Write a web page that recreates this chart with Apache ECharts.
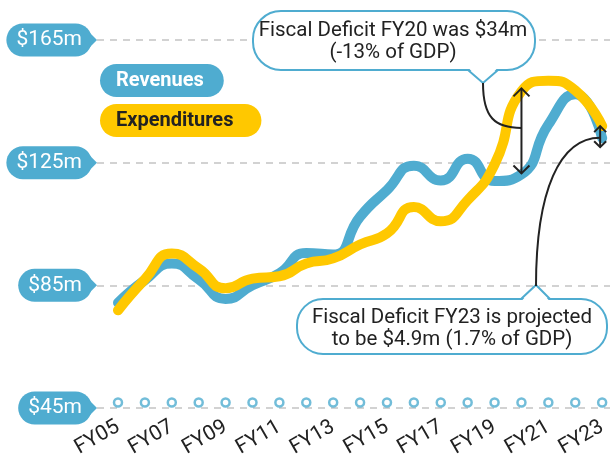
<!DOCTYPE html>
<html><head><meta charset="utf-8">
<script src="https://cdn.jsdelivr.net/npm/echarts/dist/echarts.min.js"></script>
<style>html,body{margin:0;padding:0;background:#fff}#c{width:610px;height:460px}</style>
</head><body><div id="c"></div>
<script>
const years = ['FY05','FY06','FY07','FY08','FY09','FY10','FY11','FY12','FY13','FY14','FY15','FY16','FY17','FY18','FY19','FY20','FY21','FY22','FY23'];
const revenues = [78, 85.5, 91, 85.8, 79.3, 83.8, 87.8, 94.5, 94, 106.5, 115.3, 123.4, 118.5, 125.7, 118.3, 120.5, 137, 147, 132.5];
const expenditures = [75.5, 85.8, 94.3, 89.4, 82.8, 86, 86.8, 91, 92.7, 97.3, 101, 109.7, 105, 112, 123.8, 148, 151.5, 148.3, 136.5];
const yTicks = [45, 85, 125, 165];
const seriesNames = ['Revenues', 'Expenditures'];
const note1 = 'Fiscal Deficit FY20 was $34m\n(-13% of GDP)';
const note2 = 'Fiscal Deficit FY23 is projected\nto be $4.9m (1.7% of GDP)';

const BLUE = '#4facd0', YELLOW = '#ffc800', INK = '#222';
const FONT = 'Roboto, "Noto Sans", sans-serif';

const chart = echarts.init(document.getElementById('c'), null, {renderer: 'canvas'});

const G = {top: 40, bottom: 52};
chart.setOption({
  animation: false,
  backgroundColor: '#fff',
  textStyle: {fontFamily: FONT},
  grid: [
    {left: 97, right: 0, top: G.top, bottom: G.bottom},
    {left: 118, right: 5, top: G.top, bottom: G.bottom}
  ],
  xAxis: [
    {gridIndex: 0, type: 'value', min: 0, max: 1, show: false},
    {gridIndex: 1, type: 'category', data: years, boundaryGap: false,
     axisLine: {show: false}, axisTick: {show: false},
     axisLabel: {interval: 1, rotate: 30, margin: 23, color: INK, fontSize: 21, fontFamily: FONT}}
  ],
  yAxis: [
    {gridIndex: 0, type: 'value', min: yTicks[0], max: yTicks[yTicks.length-1], interval: yTicks[1]-yTicks[0],
     axisLine: {show: false}, axisTick: {show: false},
     splitLine: {show: true, lineStyle: {color: '#d2d2d2', width: 2, type: [7, 6]}},
     axisLabel: {margin: 5, color: '#fff', fontSize: 21, fontFamily: FONT, backgroundColor: BLUE,
       borderRadius: 17, padding: [6, 10, 6, 10], lineHeight: 21,
       formatter: v => '$' + v + 'm'}},
    {gridIndex: 1, type: 'value', min: yTicks[0], max: yTicks[yTicks.length-1], show: false, splitLine: {show: false}}
  ],
  legend: {
    orient: 'vertical', left: 90, top: 59, itemGap: 7, itemWidth: 0, itemHeight: 0, icon: 'none',
    selectedMode: false,
    data: [
      {name: seriesNames[0], textStyle: {color: '#fff', backgroundColor: BLUE, fontWeight: 'bold', fontSize: 20,
        fontFamily: FONT, borderRadius: 17, padding: [6, 20, 6, 16], lineHeight: 21}},
      {name: seriesNames[1], textStyle: {color: INK, backgroundColor: YELLOW, fontWeight: 'bold', fontSize: 20,
        fontFamily: FONT, borderRadius: 17, padding: [6, 28, 6, 16], lineHeight: 21}}
    ]
  },
  series: [
    {name: seriesNames[0], type: 'line', xAxisIndex: 1, yAxisIndex: 1, data: revenues, smooth: 0.55,
     showSymbol: false, clip: false, color: BLUE, lineStyle: {width: 10, color: BLUE, cap: 'round', join: 'round'}, z: 3},
    {name: seriesNames[1], type: 'line', xAxisIndex: 1, yAxisIndex: 1, data: expenditures, smooth: 0.55,
     showSymbol: false, clip: false, color: YELLOW, lineStyle: {width: 10, color: YELLOW, cap: 'round', join: 'round'}, z: 4},
    {type: 'scatter', xAxisIndex: 1, yAxisIndex: 1, data: years.map(y => [y, yTicks[0]]), symbol: 'circle',
     symbolSize: 8, clip: false, itemStyle: {color: '#fff', borderColor: BLUE, borderWidth: 2.5}, z: 5, silent: true}
  ]
});

function px(i, v) { return chart.convertToPixel({xAxisIndex: 1, yAxisIndex: 1}, [years[i], v]); }

function bubble(x0, y0, x1, y1, r, ptr) {
  const out = [];
  out.push({type: 'rect', shape: {x: x0, y: y0, width: x1 - x0, height: y1 - y0, r: r},
    style: {fill: '#fff', stroke: BLUE, lineWidth: 2}, z: 50});
  const by = ptr.side === 'bottom' ? y1 : y0;
  const inset = ptr.side === 'bottom' ? -1.6 : 1.6;
  out.push({type: 'polygon', shape: {points: [[ptr.a + 1, by + inset], [ptr.tx, ptr.ty], [ptr.b - 1, by + inset]]},
    style: {fill: '#fff'}, z: 51});
  out.push({type: 'polyline', shape: {points: [[ptr.a, by], [ptr.tx, ptr.ty], [ptr.b, by]]},
    style: {stroke: BLUE, lineWidth: 2, fill: null}, z: 52});
  return out;
}

function dblArrow(x, yTop, yBot, h) {
  const s = {stroke: INK, lineWidth: 2, fill: null};
  return [
    {type: 'line', shape: {x1: x, y1: yTop, x2: x, y2: yBot}, style: s, z: 60},
    {type: 'polyline', shape: {points: [[x-h, yTop+h], [x, yTop], [x+h, yTop+h]]}, style: s, z: 60},
    {type: 'polyline', shape: {points: [[x-h, yBot-h], [x, yBot], [x+h, yBot-h]]}, style: s, z: 60}
  ];
}

const gfx = [];
yTicks.forEach(v => {
  const y = chart.convertToPixel({yAxisIndex: 0}, v);
  gfx.push({type: 'polygon', shape: {points: [[89, y-8], [97, y], [89, y+8]]}, style: {fill: BLUE}, z: 40});
});

const i20 = years.indexOf('FY20');
const a20t = px(i20, expenditures[i20]), a20b = px(i20, revenues[i20]);
const t20 = a20t[1] - 3, b20 = a20b[1] - 1;
gfx.push(...dblArrow(a20t[0], t20, b20, 8));
const m20 = (t20 + b20) / 2 - 3;
gfx.push({type: 'bezierCurve', shape: {x1: 483, y1: 83, cpx1: 483, cpy1: m20 - 10, cpx2: 495, cpy2: m20, x2: a20t[0], y2: m20},
  style: {stroke: INK, lineWidth: 2, fill: null}, z: 60});

const i23 = years.indexOf('FY23');
const a23t = px(i23, expenditures[i23]), a23b = px(i23, revenues[i23]);
const ax23 = a23t[0] - 2, t23 = a23t[1], b23 = a23b[1] + 9;
gfx.push(...dblArrow(ax23, t23, b23, 6));
const m23 = (t23 + b23) / 2 + 1;
gfx.push({type: 'bezierCurve', shape: {x1: 536, y1: 286, cpx1: 536, cpy1: 190, cpx2: 560, cpy2: m23, x2: ax23, y2: m23},
  style: {stroke: INK, lineWidth: 2, fill: null}, z: 60});

gfx.push(...bubble(253, 11, 535, 70, 28, {side: 'bottom', a: 468, b: 498, tx: 483, ty: 83}));
gfx.push({type: 'text', x: 393, y: 42, style: {text: note1, align: 'center', verticalAlign: 'middle',
  font: '20.5px ' + FONT, lineHeight: 22, fill: INK}, z: 70});
gfx.push(...bubble(297, 299, 607, 354, 26, {side: 'top', a: 521, b: 550, tx: 536, ty: 285}));
gfx.push({type: 'text', x: 452, y: 329, style: {text: note2, align: 'center', verticalAlign: 'middle',
  font: '20.5px ' + FONT, lineHeight: 22, fill: INK}, z: 70});

chart.setOption({graphic: {elements: gfx}});
</script></body></html>
